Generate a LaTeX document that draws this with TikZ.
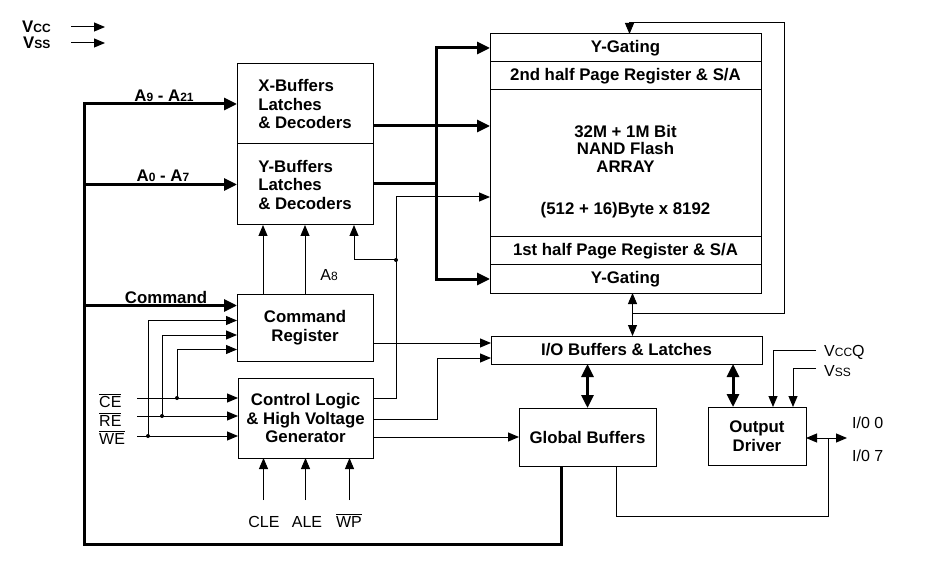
\documentclass[tikz,border=0pt]{standalone}
\usepackage{fontspec}
\setmainfont{Liberation Sans}
\usetikzlibrary{arrows.meta, calc, positioning}

\newcommand{\ovl}[1]{$\overline{\hbox{#1}}$}
\newcommand{\sm}[1]{{\fontsize{12}{12}\selectfont #1}}

\tikzset{
  box/.style={draw, line width=1pt, outer sep=0pt, inner sep=2pt, align=center,
    font={\fontsize{16.8}{18.5}\selectfont\bfseries}},
  txt/.style={inner sep=0pt, font={\fontsize{16}{18}\selectfont}},
  btxt/.style={inner sep=0pt, font={\fontsize{16.8}{18.5}\selectfont\bfseries}},
  wire/.style={line width=1pt},
  sig/.style={wire, -{Triangle[length=11pt,width=9pt]}},
  sigboth/.style={wire, {Triangle[length=11pt,width=9pt]}-{Triangle[length=11pt,width=9pt]}},
  bus/.style={line width=3pt},
  bustip/.style={bus, -{Triangle[length=13pt,width=12pt]}},
  busboth/.style={bus, {Triangle[length=13pt,width=12pt]}-{Triangle[length=13pt,width=12pt]}},
  dot/.style={circle, fill, inner sep=0pt, minimum size=4pt}
}

\begin{document}
\begin{tikzpicture}[x=1pt, y=-1pt]
\useasboundingbox (0,0) rectangle (947,577);

% supplies
\node[btxt, anchor=base west] (vcc) at (22,33) {V\sm{CC}};
\node[btxt, anchor=base west] (vss) at (23,49) {V\sm{SS}};
\coordinate (vccA) at (71,27);
\coordinate (vssA) at (71,43);
\draw[sig] (vccA) -- ++(34,0);
\draw[sig] (vssA) -- ++(34,0);

% blocks
\node[box, minimum width=136, minimum height=80, align=left] (xbuf) at (305,104) {X-Buffers\\Latches\\\& Decoders};
\node[box, minimum width=136, minimum height=81, align=left, below=0pt of xbuf] (ybuf) {Y-Buffers\\Latches\\\& Decoders};
\node[box, minimum width=136, minimum height=67] (cmdreg) at (305,327.5) {Command\\Register};
\node[box, minimum width=135, minimum height=80] (ctrl) at (305.5,418) {Control Logic\\\& High Voltage\\Generator};

\node[box, minimum width=271, minimum height=28] (ygt) at (625.5,48) {Y-Gating};
\node[box, minimum width=271, minimum height=28, below=0pt of ygt] (pg2) {2nd half Page Register \& S/A};
\node[box, minimum width=271, minimum height=147, below=0pt of pg2] (arr) {};
\node[box, minimum width=271, minimum height=28, below=0pt of arr] (pg1) {1st half Page Register \& S/A};
\node[box, minimum width=271, minimum height=28, below=0pt of pg1] (ygb) {Y-Gating};
\node[btxt, align=center, font={\fontsize{16.8}{17.5}\selectfont\bfseries}] (arrtxt) at ($(arr.center)+(0,8)$) {32M + 1M Bit\\NAND Flash\\ARRAY\\[25pt](512 + 16)Byte x 8192};

\node[box, minimum width=271, minimum height=28] (iobuf) at (626.5,350) {I/O Buffers \& Latches};
\node[box, minimum width=137, minimum height=58] (gbuf) at (587.5,437) {Global Buffers};
\node[box, minimum width=98, minimum height=58] (odrv) at (757,436) {Output\\Driver};

% address and command bus
\coordinate (bl) at (84,544);
\coordinate (cmdin) at ($(cmdreg.west)+(0,-22)$);
\draw[bustip] ($(gbuf.south)+(-26,0)$) |- (bl) |- (xbuf.west);
\draw[bustip] (bl |- ybuf.west) -- (ybuf.west);
\draw[bustip] (bl |- cmdin) -- (cmdin);
\node[btxt, anchor=south] (la9) at (164,102) {A\sm{9} - A\sm{21}};
\node[btxt, anchor=south] (la0) at (163,182) {A\sm{0} - A\sm{7}};
\node[btxt, anchor=south] (lcmd) at (166,304) {Command};

% buffers to array
\coordinate (bx) at (436,0);
\coordinate (xo) at ($(xbuf.east)+(0,22)$);
\coordinate (yo) at ($(ybuf.east)+(0,-1)$);
\draw[busboth] (ygt.west) -| (bx |- ygb.west) -- (ygb.west);
\draw[bustip] (xo) -- (xo -| arr.west);
\draw[bus] (yo) -- (yo -| bx);

% command register to Y-buffers
\coordinate (a1) at ($(cmdreg.north)+(-42,0)$);
\draw[sig] (a1) -- (a1 |- ybuf.south);
\draw[sig] (cmdreg.north) -- (ybuf.south);
\node[txt] (la8) at (329,275) {A\sm{8}};

% control logic outputs
\coordinate (c1) at ($(ctrl.east)+(0,-20)$);
\coordinate (c2) at ($(ctrl.east)+(0,1)$);
\coordinate (jv) at (396,197);
\coordinate (jd) at (396,260);
\coordinate (yb) at ($(ybuf.south)+(49,0)$);
\draw[sig] (c1) -| (jv) -- (jv -| arr.west);
\node[dot] (dd) at (jd) {};
\draw[sig] (dd.center) -| (yb);

\coordinate (io1) at ($(iobuf.west)+(0,-7)$);
\coordinate (io2) at ($(iobuf.west)+(0,8)$);
\coordinate (jc) at (437,0);
\draw[sig] (io1 -| cmdreg.east) -- (io1);
\draw[sig] (c2) -| (jc |- io2) -- (io2);
\draw[sig] (ctrl.east |- gbuf.west) -- (gbuf.west);

% CE RE WE
\coordinate (ce0) at (137,398);
\coordinate (re0) at (137,416);
\coordinate (we0) at (137,436);
\draw[sig] (ce0) -- (ce0 -| ctrl.west);
\draw[sig] (re0) -- (re0 -| ctrl.west);
\draw[sig] (we0) -- (we0 -| ctrl.west);
\node[txt, anchor=base west] (lce) at (99,407) {\ovl{CE}};
\node[txt, anchor=base west] (lre) at (99,426) {\ovl{RE}};
\node[txt, anchor=base west] (lwe) at (99,444) {\ovl{WE}};

\coordinate (cr1) at ($(cmdreg.west)+(0,-7)$);
\coordinate (cr2) at ($(cmdreg.west)+(0,7.5)$);
\coordinate (cr3) at ($(cmdreg.west)+(0,22)$);
\node[dot] (dwe) at (148,436) {};
\node[dot] (dre) at (162,416) {};
\node[dot] (dce) at (177,398) {};
\draw[sig] (dwe.center) |- (cr1);
\draw[sig] (dre.center) |- (cr2);
\draw[sig] (dce.center) |- (cr3);

% CLE ALE WP
\coordinate (p1) at ($(ctrl.south)+(-42,42)$);
\coordinate (p2) at ($(ctrl.south)+(0,42)$);
\coordinate (p3) at ($(ctrl.south)+(44,42)$);
\foreach \p in {1,2,3} {
  \draw[sig] (p\p) -- (p\p |- ctrl.south);
}
\node[txt, anchor=base] (lcle) at (264,527) {CLE};
\node[txt, anchor=base] (lale) at (307,527) {ALE};
\node[txt, anchor=base] (lwp) at (349,527) {\ovl{WP}};

% page register loop
\coordinate (lp) at ($(iobuf.north)+(6,0)$);
\coordinate (lb) at ($(lp)+(0,-23)$);
\coordinate (lt) at ($(ygt.north)+(4,-11)$);
\coordinate (lx) at (784,0);
\draw[sigboth] (lp) -- (lp |- ygb.south);
\draw[sig] (lb) -| (lx |- lt) -- (lt) -- (lt |- ygt.north);

% I/O paths
\coordinate (od1) at ($(odrv.north)+(-24,0)$);
\draw[busboth] (gbuf.north) -- (gbuf.north |- iobuf.south);
\draw[busboth] (od1) -- (od1 |- iobuf.south);

\coordinate (vq) at ($(odrv.north)+(16,0)$);
\coordinate (vs) at ($(odrv.north)+(36,0)$);
\coordinate (vqA) at (816,350);
\coordinate (vsA) at (816,368);
\draw[sig] (vqA) -| (vq);
\draw[sig] (vsA) -| (vs);
\node[txt, anchor=base west] (lvq) at (824,356) {V\sm{CC}Q};
\node[txt, anchor=base west] (lvs) at (824,376) {V\sm{SS}};

\coordinate (ioE) at ($(odrv.east)+(41,2)$);
\coordinate (iv) at ($(odrv.east)+(22,2)$);
\coordinate (gb1) at ($(gbuf.south)+(28.5,0)$);
\coordinate (gbl) at ($(gb1)+(0,50)$);
\draw[sigboth] (odrv.east |- ioE) -- (ioE);
\draw[wire] (iv) |- (gbl) -- (gb1);
\node[txt, anchor=base west] (lio0) at (852,428) {I/0 0};
\node[txt, anchor=base west] (lio7) at (852,461) {I/0 7};

\end{tikzpicture}
\end{document}
